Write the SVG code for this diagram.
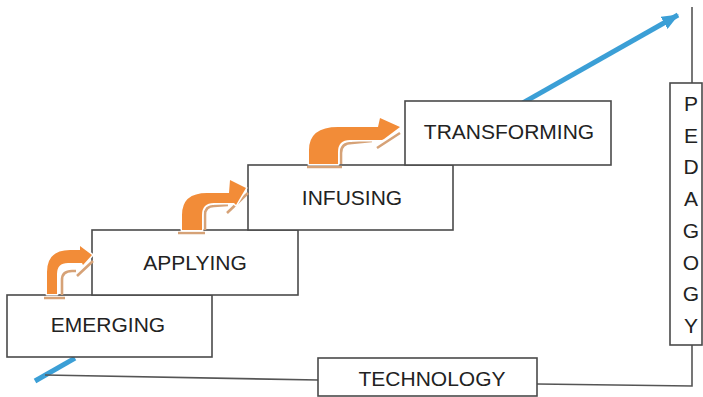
<svg xmlns="http://www.w3.org/2000/svg" width="703" height="397" viewBox="0 0 703 397">
<style>
.box{fill:#fff;stroke:#4a4a4a;stroke-width:1.6}
.lbl{font-family:"Liberation Sans",Arial,sans-serif;font-size:21px;fill:#222;text-anchor:middle}
.conn{fill:none;stroke:#555;stroke-width:1.6}
.blue{fill:none;stroke:#3B9FD6;stroke-width:5}
.arr{fill:#F28C38;stroke:#fff;stroke-width:3;paint-order:stroke;stroke-linejoin:round}
.shd{fill:none;stroke:#D6A277;stroke-width:2.6;stroke-linecap:butt}
</style>
<defs>
<marker id="bh" markerUnits="userSpaceOnUse" markerWidth="18" markerHeight="14" refX="16" refY="7" orient="auto">
<path d="M0,0 L17,7 L0,14 Z" fill="#3B9FD6"/>
</marker>
</defs>
<g id="connectors">
<line class="blue" x1="35" y1="381" x2="75" y2="358.2"/>
<line class="blue" x1="518" y1="105.6" x2="678" y2="15" marker-end="url(#bh)"/>
<polyline class="conn" points="45,375 318,380"/>
<polyline class="conn" points="537,384 692,386 692,345"/>
<polyline class="conn" points="692,83 692,7"/>
</g>
<g id="emerging">
<rect class="box" x="7" y="295" width="205" height="62"/>
<text class="lbl" x="108" y="332">EMERGING</text>
</g>
<g id="applying">
<rect class="box" x="92" y="230" width="206" height="65"/>
<text class="lbl" x="195" y="270">APPLYING</text>
</g>
<g id="infusing">
<rect class="box" x="248" y="165" width="205" height="65"/>
<text class="lbl" x="352" y="205">INFUSING</text>
</g>
<g id="transforming">
<rect class="box" x="405" y="101" width="206" height="64"/>
<text class="lbl" x="509" y="139">TRANSFORMING</text>
</g>
<g id="technology">
<rect class="box" x="318" y="358" width="219" height="38"/>
<text class="lbl" x="432" y="386">TECHNOLOGY</text>
</g>
<g id="pedagogy">
<rect class="box" x="670" y="83" width="32" height="262"/>
<text class="lbl" x="691" y="111">P</text>
<text class="lbl" x="691" y="142.7">E</text>
<text class="lbl" x="691" y="174.4">D</text>
<text class="lbl" x="691" y="206.1">A</text>
<text class="lbl" x="691" y="237.9">G</text>
<text class="lbl" x="691" y="269.6">O</text>
<text class="lbl" x="691" y="301.3">G</text>
<text class="lbl" x="691" y="333">Y</text>
</g>
<g id="arrow1">
<path class="shd" d="M44,298 L65,298 M62,295 L62,280 Q62,271 72,271 L76,271 M77,276 L93,261"/>
<path class="arr" d="M47,294 L47,272 Q47,250 70,250 L80,250 L80,246 L92,255 L83,265 L82,263 L68,263 Q57,263 57,274 L57,294 Z"/>
</g>
<g id="arrow2">
<path class="shd" d="M178,233 L205,233 M205,230 L205,215 Q205,206 214,206 L228,205 M227,213 L248,193"/>
<path class="arr" d="M182,230 L182,215 Q182,193 207,193 L229,193 L230,180 L246,188 L236,205 L234,203 L214,203 Q202,203 202,215 L202,230 Z"/>
</g>
<g id="arrow3">
<path class="shd" d="M307,167 L342,167 M341,164 L341,153 Q341,143 352,143 L372,141 M377,148 L400,133"/>
<path class="arr" d="M309,164 L309,150 Q309,127 338,127 L378,127 L380,118 L400,127 L384,139 L382,140 L350,140 Q338,140 338,152 L338,164 Z"/>
</g>
</svg>
